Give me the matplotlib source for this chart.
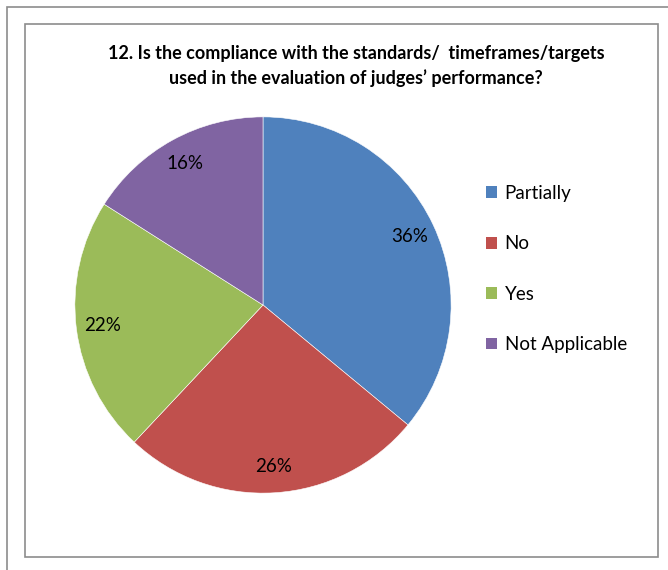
import matplotlib.pyplot as plt
from matplotlib.patches import Rectangle, Patch

# chart data
categories = ['Partially', 'No', 'Yes', 'Not Applicable']
shares = [36, 26, 22, 16]
colors = ['#4F81BD', '#C0504D', '#9BBB59', '#8064A2']
title = ("12. Is the compliance with the standards/  timeframes/targets\n"
         "used in the evaluation of judges\u2019 performance?")

plt.rcParams['font.family'] = ['Lato', 'DejaVu Sans']

W, H = 668, 570
fig = plt.figure(figsize=(W / 100, H / 100), dpi=100)


def px(x, y):
    # pixel position (from top-left) -> figure fraction
    return x / W, 1 - y / H


# outer frame (cut off at right and bottom) and chart frame
fig.patches.append(Rectangle(px(7, 600), 700 / W, 593 / H, transform=fig.transFigure,
                             fill=False, ec='#8c8c8c', lw=1.2))
fig.patches.append(Rectangle(px(25, 557), 633 / W, 533 / H, transform=fig.transFigure,
                             fill=False, ec='#8c8c8c', lw=1.2))

fig.text(*px(356, 66), title, ha='center', va='center', fontsize=13,
         fontweight='bold', linespacing=1.45)

# pie axes: center (263, 305), radius ~188px
ax = fig.add_axes([73 / W, (H - 305 - 190) / H, 380 / W, 380 / H])
ax.pie(shares, colors=colors, startangle=90, counterclock=False,
       autopct='%d%%', pctdistance=0.86,
       wedgeprops=dict(edgecolor='white', linewidth=0.4),
       textprops=dict(fontsize=13.5, color='black'))
ax.set_xlim(-1.01, 1.01)
ax.set_ylim(-1.01, 1.01)
ax.set_aspect('equal')
ax.axis('off')

handles = [Patch(facecolor=c, edgecolor='none') for c in colors]
fig.legend(handles, categories, loc='center left', bbox_to_anchor=px(469, 269),
           frameon=False, fontsize=13.5, labelspacing=1.78,
           handlelength=0.6, handleheight=0.6, handletextpad=0.4)

fig.savefig('out.png', dpi=100, facecolor='white')
